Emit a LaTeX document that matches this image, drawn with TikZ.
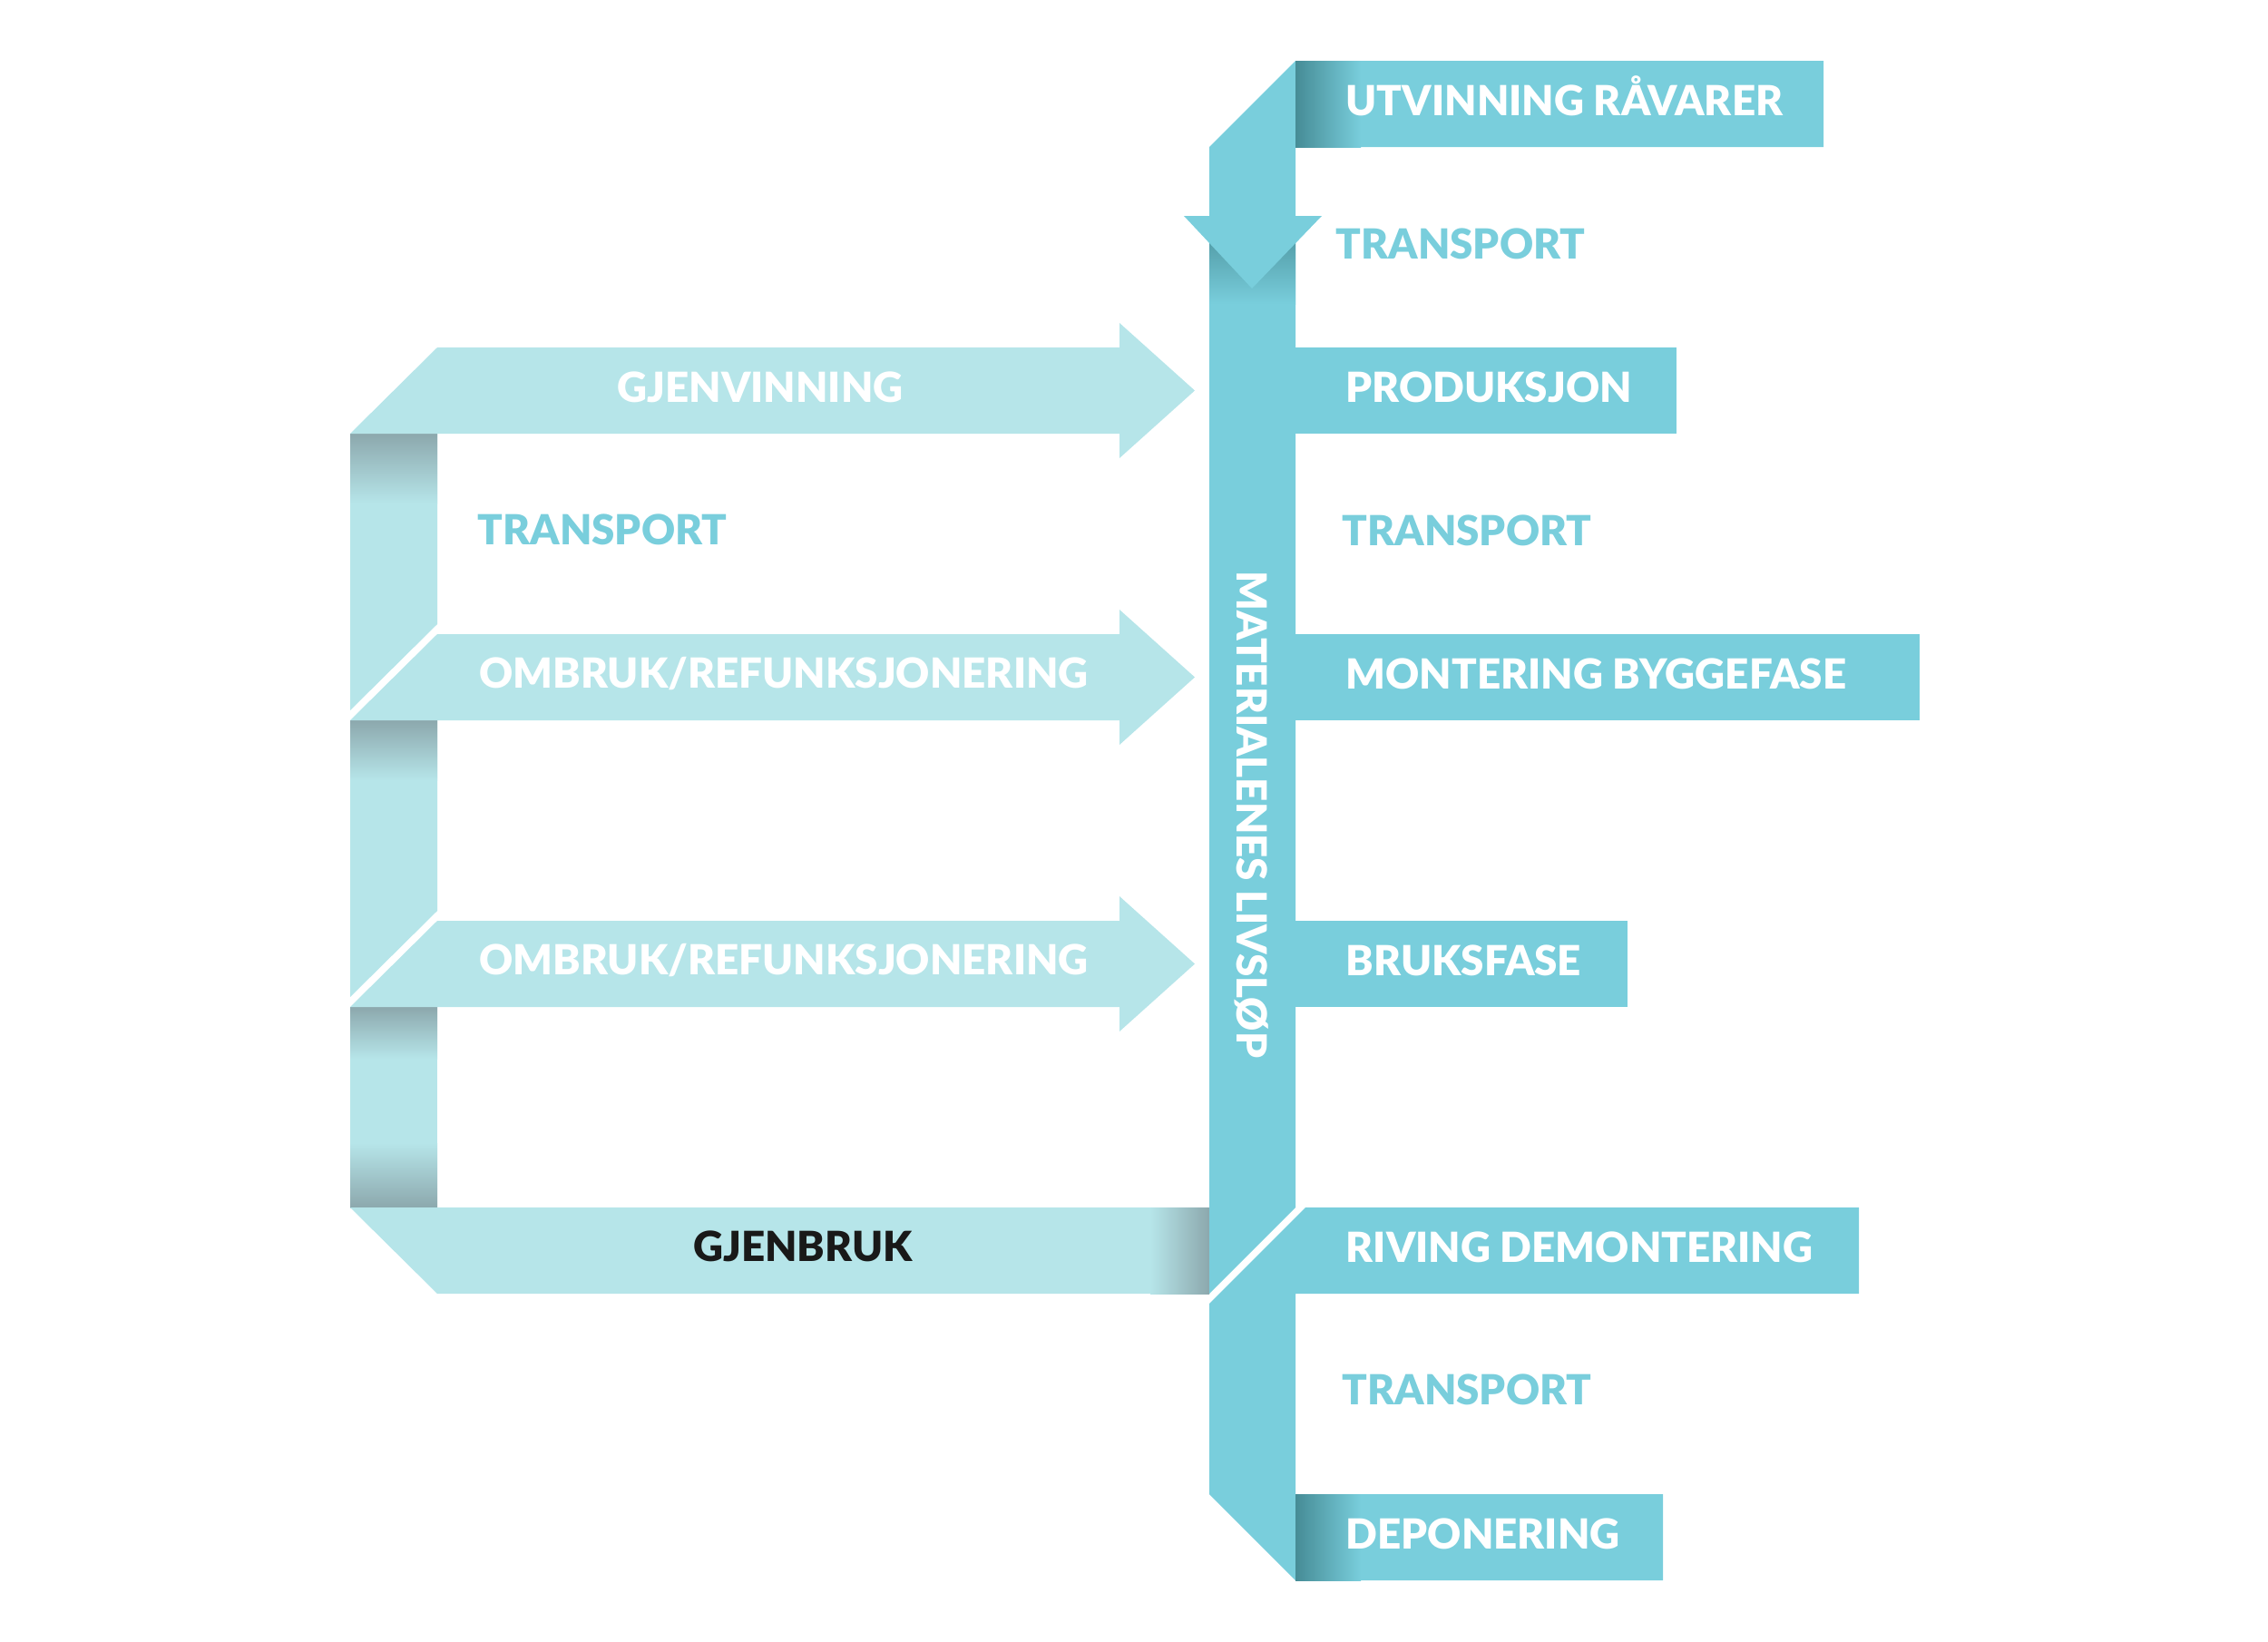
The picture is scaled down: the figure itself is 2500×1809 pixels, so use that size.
\documentclass[tikz,border=0pt]{standalone}
\usepackage{fontspec}
\setmainfont{Lato}
\newfontfamily\heavy{Lato Black}
\usepackage{tikz}
\definecolor{trunk}{HTML}{79CEDC}
\definecolor{loopcyan}{HTML}{B6E5E9}
\definecolor{darkteal}{HTML}{468C96}
\definecolor{loopgray}{HTML}{8CA8AD}

\begin{document}
\begin{tikzpicture}[x=0.01cm,y=-0.01cm,
    lbl/.style={font=\fontsize{13}{15}\heavy, text=white, inner sep=0pt, anchor=base},
    bar/.style={lbl, anchor=base west},
    tr/.style={bar, text=trunk}]
    \useasboundingbox (0,0) rectangle (2500,1809);
    % left loop, light ribbon
    \fill[loopcyan] (386,478) -- (482,478) -- (482,688) -- (386,783) -- cycle;
    \shade[top color=loopgray, bottom color=loopcyan] (386,478) rectangle (482,555);
    \fill[loopcyan] (386,794) -- (482,794) -- (482,1004) -- (386,1099) -- cycle;
    \shade[top color=loopgray, bottom color=loopcyan] (386,794) rectangle (482,860);
    \fill[loopcyan] (386,1110) rectangle (482,1331);
    \shade[top color=loopgray, bottom color=loopcyan] (386,1110) rectangle (482,1167);
    \shade[top color=loopcyan, bottom color=loopgray] (386,1260) rectangle (482,1331);
    \fill[loopcyan] (386,478) -- (482,383) -- (1234,383) -- (1234,356) -- (1317,430.5) -- (1234,505) -- (1234,478) -- cycle;
    \foreach \y in {699,1015}
        \fill[loopcyan] (386,\y+95) -- (482,\y) -- (1234,\y) -- (1234,\y-27) -- (1317,\y+47.5) -- (1234,\y+122) -- (1234,\y+95) -- cycle;
    \fill[loopcyan] (386,1331) -- (1333,1331) -- (1333,1426) -- (482,1426) -- cycle;
    \shade[left color=loopcyan, right color=loopgray] (1268,1331) rectangle (1333,1426);
    % main ribbon
    \fill[trunk] (1333,238) -- (1428,238) -- (1428,1331) -- (1333,1426) -- cycle;
    \shade[top color=darkteal, bottom color=trunk] (1333,238) rectangle (1428,335);
    \fill[trunk] (1428,67) -- (2010,67) -- (2010,162) -- (1428,162) -- (1428,238) -- (1457,238) -- (1380,318) -- (1305,238) -- (1333,238) -- (1333,162) -- cycle;
    \shade[left color=darkteal, right color=trunk] (1428,67) rectangle (1500,162);
    \foreach \y/\r in {383/1848, 699/2116, 1015/1794}
        \fill[trunk] (1420,\y) rectangle (\r,\y+95);
    \fill[trunk] (1439,1331) -- (2049,1331) -- (2049,1426) -- (1428,1426) -- (1428,1647) -- (1833,1647) -- (1833,1742) -- (1428,1742) -- (1333,1647) -- (1333,1437) -- cycle;
    \shade[left color=darkteal, right color=trunk] (1428,1647) rectangle (1500,1742);
    % labels
    \node[bar] (utv) at (1483,127) {UTVINNING RÅVARER};
    \node[tr] (tr1) at (1472,285) {TRANSPORT};
    \node[bar] (prod) at (1483,443) {PRODUKSJON};
    \node[tr] (tr2) at (1479,601) {TRANSPORT};
    \node[bar] (mont) at (1483,759) {MONTERING BYGGEFASE};
    \node[bar] (bruk) at (1483,1075) {BRUKSFASE};
    \node[bar] (riv) at (1483,1391) {RIVING DEMONTERING};
    \node[tr] (tr3) at (1479,1548) {TRANSPORT};
    \node[bar] (dep) at (1483,1707) {DEPONERING};
    \node[lbl] (gjenv) at (838,443) {GJENVINNING};
    \node[tr] (trl) at (526,600) {TRANSPORT};
    \node[lbl] (omb1) at (864,758) {OMBRUK/REFUNKSJONERING};
    \node[lbl] (omb2) at (864,1074) {OMBRUK/REFUNKSJONERING};
    \node[lbl, text=black!90] (gjenb) at (885,1390) {GJENBRUK};
    \node[lbl, anchor=center, rotate=-90] (liv) at (1380,898) {MATERIALENES LIVSLØP};
\end{tikzpicture}
\end{document}
